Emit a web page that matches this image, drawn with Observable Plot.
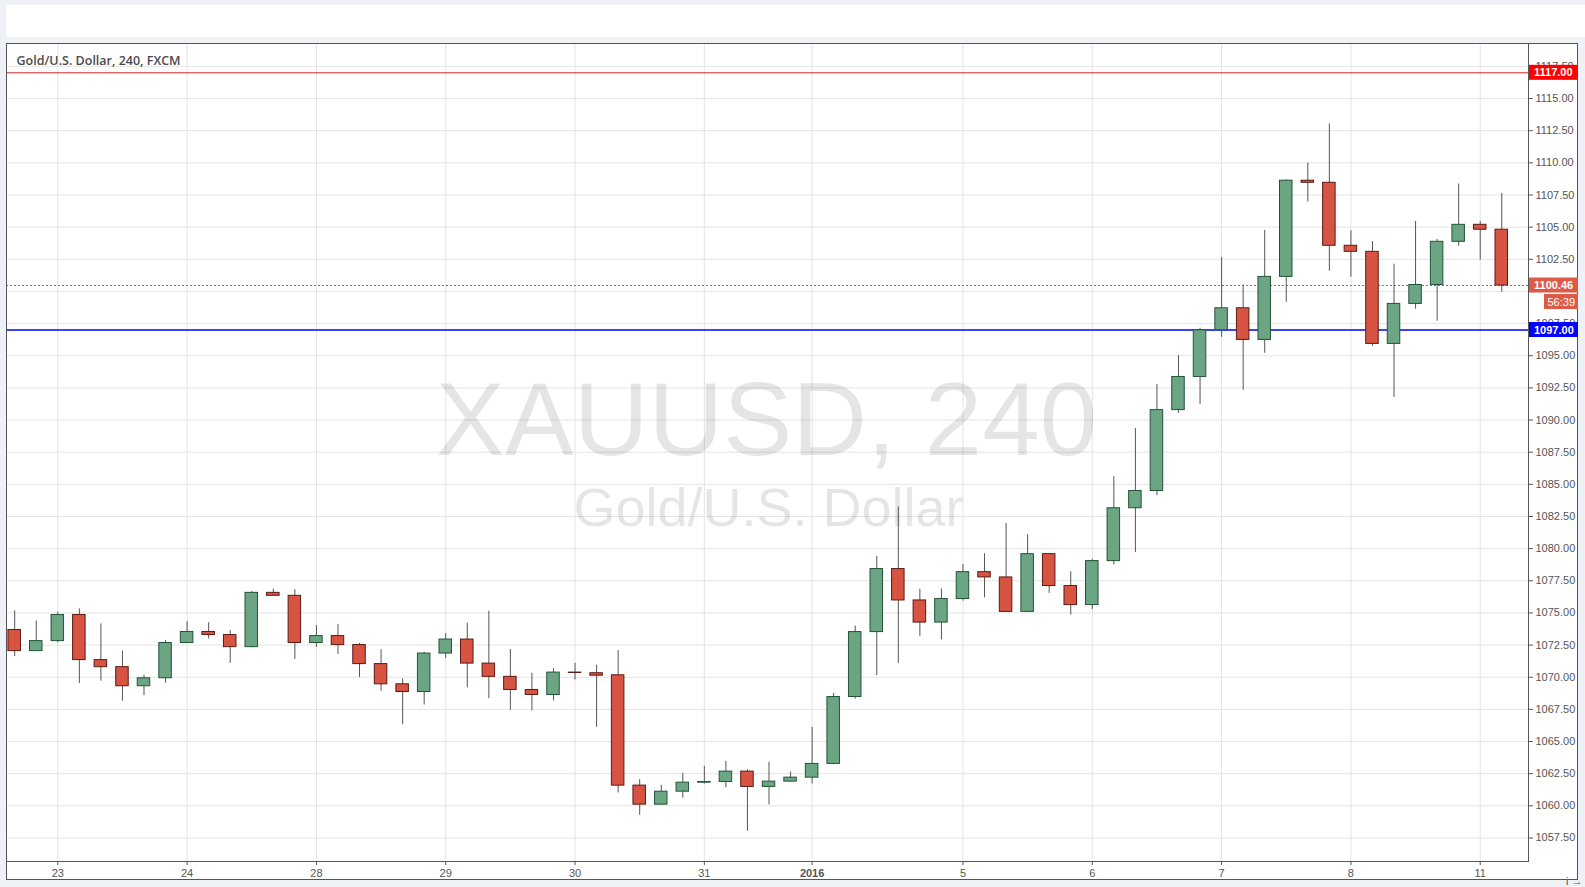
<!DOCTYPE html>
<html><head><meta charset="utf-8">
<script src="https://cdn.jsdelivr.net/npm/d3@7"></script>
<script src="https://cdn.jsdelivr.net/npm/@observablehq/plot@0.6"></script>
<style>
html,body{margin:0;padding:0;background:#eef1f5;width:1585px;height:887px;overflow:hidden;font-family:"Liberation Sans",Arial,sans-serif}
#band{position:absolute;left:6px;top:5px;width:1579px;height:32px;background:#fff}
#frame{position:absolute;left:6px;top:43px;width:1572px;height:837px;background:#fff;border:1px solid #555;box-sizing:border-box}
#chart{position:absolute;left:0;top:0}
</style></head><body>
<div id="band"></div><div id="frame"></div><div id="chart"></div>
<script>
const opens  = [1073.67,1072.03,1072.81,1074.84,1071.33,1070.78,1069.30,1069.92,1072.66,1073.52,
                1073.28,1072.34,1076.56,1076.33,1072.66,1073.20,1072.50,1071.02,1069.45,1068.85,
                1071.84,1072.93,1071.06,1070.03,1069.01,1068.62,1070.36,1070.31,1070.15,1061.57,
                1060.09,1061.10,1061.80,1061.85,1062.66,1061.47,1061.88,1062.19,1063.26,1068.46,
                1073.51,1078.41,1075.97,1074.25,1076.08,1078.17,1077.76,1075.08,1079.57,1077.09,
                1075.61,1079.03,1083.14,1084.48,1090.77,1093.35,1096.98,1098.69,1096.23,1101.13,
                1108.61,1108.45,1103.55,1103.08,1095.92,1099.03,1100.50,1103.86,1105.18,1104.80];
const highs  = [1075.16,1074.38,1075.05,1075.31,1074.14,1072.03,1070.16,1072.84,1074.32,1074.24,
                1073.62,1076.67,1076.85,1076.80,1074.01,1074.09,1072.63,1072.14,1069.87,1071.94,
                1073.39,1074.20,1075.13,1072.15,1070.31,1070.67,1071.08,1070.93,1072.07,1062.04,
                1061.60,1062.53,1063.07,1063.46,1062.81,1063.39,1062.63,1066.10,1068.74,1073.98,
                1079.39,1083.25,1076.85,1076.87,1078.76,1079.60,1081.96,1081.08,1079.60,1078.20,
                1079.18,1085.60,1089.34,1092.76,1095.01,1097.14,1102.64,1100.51,1104.74,1108.68,
                1109.98,1113.02,1104.71,1103.88,1102.12,1105.44,1104.04,1108.35,1105.44,1107.62];
const lows   = [1071.61,1072.00,1072.68,1069.51,1069.69,1068.13,1068.57,1069.53,1072.60,1072.97,
                1071.07,1072.30,1076.30,1071.38,1072.32,1071.77,1069.97,1068.91,1066.30,1067.84,
                1071.45,1069.17,1068.34,1067.43,1067.38,1068.16,1069.79,1066.11,1061.00,1059.26,
                1060.05,1060.60,1061.70,1061.40,1058.02,1060.07,1061.85,1061.70,1063.20,1068.30,
                1070.12,1071.07,1073.19,1072.91,1075.92,1076.18,1075.05,1075.05,1076.52,1074.83,
                1075.26,1078.72,1079.70,1084.13,1090.52,1091.22,1096.43,1092.31,1095.19,1099.16,
                1106.95,1101.57,1101.11,1095.73,1091.76,1098.62,1097.68,1103.52,1102.43,1099.94];
const closes = [1072.03,1072.81,1074.84,1071.33,1070.78,1069.30,1069.92,1072.66,1073.52,1073.28,
                1072.34,1076.56,1076.33,1072.66,1073.20,1072.50,1071.02,1069.45,1068.85,1071.84,
                1072.93,1071.06,1070.03,1069.01,1068.62,1070.36,1070.33,1070.12,1061.57,1060.09,
                1061.10,1061.80,1061.85,1062.66,1061.47,1061.88,1062.19,1063.26,1068.46,1073.51,
                1078.41,1075.97,1074.25,1076.08,1078.17,1077.76,1075.08,1079.57,1077.09,1075.61,
                1079.03,1083.14,1084.48,1090.77,1093.35,1096.98,1098.69,1096.23,1101.13,1108.61,
                1108.45,1103.55,1103.08,1095.92,1099.03,1100.50,1103.86,1105.18,1104.80,1100.46];

const dayTickIndex  = [2, 8, 14, 20, 26, 32, 37, 44, 50, 56, 62, 68];
const dayTickLabels = ["23","24","28","29","30","31","2016","5","6","7","8","11"];
const priceTicks = d3.range(1057.5, 1117.51, 2.5);
const hiddenPriceLabels = [1100];
const resistance = 1117.00, support = 1097.00, lastPrice = 1100.46, countdown = "56:39";
const symbolTitle = "Gold/U.S. Dollar, 240, FXCM";
const watermark1 = "XAUUSD, 240", watermark2 = "Gold/U.S. Dollar";

const candles = opens.map((o, i) => ({i, o, h: highs[i], l: lows[i], c: closes[i], up: closes[i] >= o}));
const axisPriceTicks = priceTicks.filter(v => !hiddenPriceLabels.includes(v));

const chart = Plot.plot({
  width: 1585, height: 887,
  marginLeft: 6, marginRight: 57, marginTop: 43, marginBottom: 26,
  style: {background: "transparent", fontFamily: "Liberation Sans, Arial, sans-serif"},
  x: {type: "linear", domain: [-0.38, 70.24], axis: null},
  y: {domain: [1055.67, 1119.28], axis: null},
  marks: [
    Plot.gridX(dayTickIndex, {stroke: "#e4e4e4", strokeOpacity: 1}),
    Plot.gridY(priceTicks, {stroke: "#e4e4e4", strokeOpacity: 1}),
    Plot.text([watermark1], {frameAnchor: "middle", dx: -1, dy: -31, fontSize: 103.5, fill: "#000", fillOpacity: 0.1}),
    Plot.text([watermark2], {frameAnchor: "middle", dx: 1, dy: 56, fontSize: 54, fill: "#000", fillOpacity: 0.1}),
    Plot.text([symbolTitle], {frameAnchor: "top-left", dx: 10, dy: 13, fontSize: 12.5, fontWeight: 600, fill: "#4a4a4a", fontFamily: "Open Sans"}),
    Plot.ruleY([resistance], {stroke: "#d0202a"}),
    Plot.ruleY([lastPrice], {stroke: "#d75442", strokeDasharray: "2,2"}),
    Plot.ruleY([support], {stroke: "#0000ff", strokeWidth: 1.5}),
    Plot.ruleX(candles, {x: "i", y1: "l", y2: "h", stroke: "#555"}),
    Plot.rect(candles, {
      x1: d => d.i - 0.29, x2: d => d.i + 0.29,
      y1: d => Math.min(d.o, d.c), y2: d => Math.max(d.o, d.c),
      fill: d => d.up ? "#6ba583" : "#d75442",
      stroke: d => d.up ? "#225437" : "#5b1a13"
    }),
    Plot.axisY(axisPriceTicks, {anchor: "right", tickSize: 4, tickPadding: 3, tickFormat: d => d.toFixed(2), fontSize: 11, color: "#555"}),
    Plot.axisX(dayTickIndex, {anchor: "bottom", tickSize: 4, tickPadding: 4, tickFormat: d => dayTickLabels[dayTickIndex.indexOf(d)], fontSize: 11, color: "#555"}),
    Plot.frame({stroke: "#555"})
  ]
});
document.getElementById("chart").appendChild(chart);

// bold year label
d3.select(chart).selectAll("text").filter(function() { return this.textContent === "2016"; }).attr("font-weight", "bold");

// price tags on the right axis
const ys = chart.scale("y");
const right = 1585 - 57;
const svg = d3.select(chart);
const tags = [
  {v: resistance, label: resistance.toFixed(2), bg: "#ff0000"},
  {v: lastPrice, label: lastPrice.toFixed(2), bg: "#dd5a47"},
  {v: support, label: support.toFixed(2), bg: "#0000ff"}
];
const g = svg.append("g")
  .attr("font-family", "Liberation Sans, Arial, sans-serif")
  .attr("font-size", 11).attr("font-weight", "bold").attr("text-anchor", "start");
for (const t of tags) {
  const y = ys.apply(t.v);
  g.append("rect").attr("x", right + 1).attr("y", y - 7.5).attr("width", 49).attr("height", 15).attr("fill", t.bg);
  g.append("text").attr("x", right + 6).attr("y", y + 4).attr("text-anchor", "start").attr("fill", "#fff").text(t.label);
}
{
  const y = ys.apply(lastPrice) + 9;
  g.append("rect").attr("x", right + 16).attr("y", y).attr("width", 34).attr("height", 15).attr("fill", "#dd5a47");
  g.append("text").attr("x", right + 47).attr("y", y + 11.5).attr("text-anchor", "end").attr("fill", "#fff").attr("font-weight", "normal").text(countdown);
}
</script>
</body></html>
